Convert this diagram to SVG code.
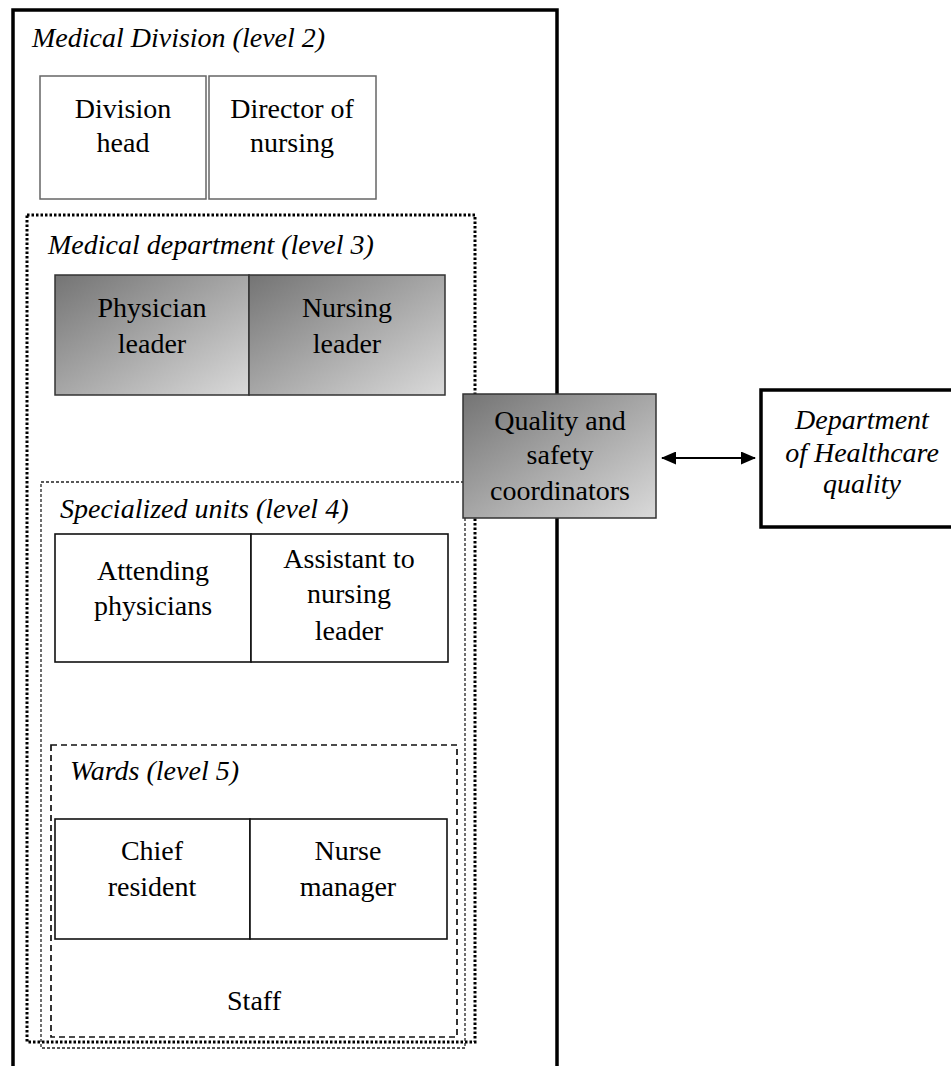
<svg xmlns="http://www.w3.org/2000/svg" width="951" height="1066" viewBox="0 0 951 1066">
  <defs>
    <linearGradient id="g" x1="0" y1="0" x2="1" y2="1">
      <stop offset="0" stop-color="#747474"/>
      <stop offset="1" stop-color="#dadada"/>
    </linearGradient>
    <marker id="ah" viewBox="0 0 15 13" refX="14" refY="6.5" markerWidth="15" markerHeight="13" markerUnits="userSpaceOnUse" orient="auto-start-reverse">
      <path d="M0,0 L15,6.5 L0,13 Z" fill="#000"/>
    </marker>
  </defs>
  <style>
    text { font-family: "Liberation Serif", "Times New Roman", serif; font-size: 28px; fill: #000; }
    .c { text-anchor: middle; }
    .i { font-style: italic; }
    .outer { fill: none; stroke: #000; stroke-width: 3.5; }
    .l3 { fill: none; stroke: #000; stroke-width: 3; stroke-dasharray: 2.5 2; }
    .l4 { fill: none; stroke: #222; stroke-width: 1.3; stroke-dasharray: 3 2; }
    .l5 { fill: none; stroke: #111; stroke-width: 1.7; stroke-dasharray: 6 4; }
    .gray { fill: #fff; stroke: #666; stroke-width: 1.5; }
    .grad { fill: url(#g); stroke: #333; stroke-width: 1.5; }
    .plain { fill: #fff; stroke: #111; stroke-width: 1.6; }
  </style>
  <rect width="951" height="1066" fill="#fff"/>

  <g id="medical-division">
    <rect class="outer" x="13" y="10" width="544" height="1080"/>
    <text class="i" x="32" y="47">Medical Division (level 2)</text>
  </g>
  <g id="division-head">
    <rect class="gray" x="40" y="76" width="166" height="123"/>
    <text class="c" x="123" y="118">Division</text>
    <text class="c" x="123" y="152">head</text>
  </g>
  <g id="director-of-nursing">
    <rect class="gray" x="209" y="76" width="167" height="123"/>
    <text class="c" x="292" y="118">Director of</text>
    <text class="c" x="292" y="152">nursing</text>
  </g>

  <g id="medical-department">
    <rect class="l3" x="27" y="215" width="448" height="827"/>
    <text class="i" x="48" y="254">Medical department (level 3)</text>
  </g>
  <g id="physician-leader">
    <rect class="grad" x="55" y="275" width="194" height="120"/>
    <text class="c" x="152" y="317">Physician</text>
    <text class="c" x="152" y="353">leader</text>
  </g>
  <g id="nursing-leader">
    <rect class="grad" x="249" y="275" width="196" height="120"/>
    <text class="c" x="347" y="317">Nursing</text>
    <text class="c" x="347" y="353">leader</text>
  </g>

  <g id="specialized-units">
    <rect class="l4" x="41" y="482" width="424" height="566"/>
    <text class="i" x="60" y="518">Specialized units (level 4)</text>
  </g>
  <g id="attending-physicians">
    <rect class="plain" x="55" y="534" width="196" height="128"/>
    <text class="c" x="153" y="580">Attending</text>
    <text class="c" x="153" y="615">physicians</text>
  </g>
  <g id="assistant-nursing-leader">
    <rect class="plain" x="251" y="534" width="197" height="128"/>
    <text class="c" x="349" y="568">Assistant to</text>
    <text class="c" x="349" y="603">nursing</text>
    <text class="c" x="349" y="640">leader</text>
  </g>

  <g id="wards">
    <rect class="l5" x="51" y="745" width="406" height="292"/>
    <text class="i" x="70" y="780">Wards (level 5)</text>
    <text class="c" x="254" y="1010">Staff</text>
  </g>
  <g id="chief-resident">
    <rect class="plain" x="55" y="819" width="195" height="120"/>
    <text class="c" x="152" y="860">Chief</text>
    <text class="c" x="152" y="896">resident</text>
  </g>
  <g id="nurse-manager">
    <rect class="plain" x="250" y="819" width="197" height="120"/>
    <text class="c" x="348" y="860">Nurse</text>
    <text class="c" x="348" y="896">manager</text>
  </g>

  <g id="quality-safety">
    <rect class="grad" x="463" y="394" width="193" height="124"/>
    <text class="c" x="560" y="430">Quality and</text>
    <text class="c" x="560" y="464">safety</text>
    <text class="c" x="560" y="500">coordinators</text>
  </g>

  <g id="department-healthcare-quality">
    <rect fill="#fff" stroke="#000" stroke-width="3.5" x="761" y="390" width="210" height="137"/>
    <text class="c i" x="862" y="429">Department</text>
    <text class="c i" x="862" y="462">of Healthcare</text>
    <text class="c i" x="862" y="493">quality</text>
  </g>

  <g id="connectors">
    <line x1="662" y1="458" x2="755" y2="458" stroke="#000" stroke-width="2" marker-start="url(#ah)" marker-end="url(#ah)"/>
  </g>
</svg>
